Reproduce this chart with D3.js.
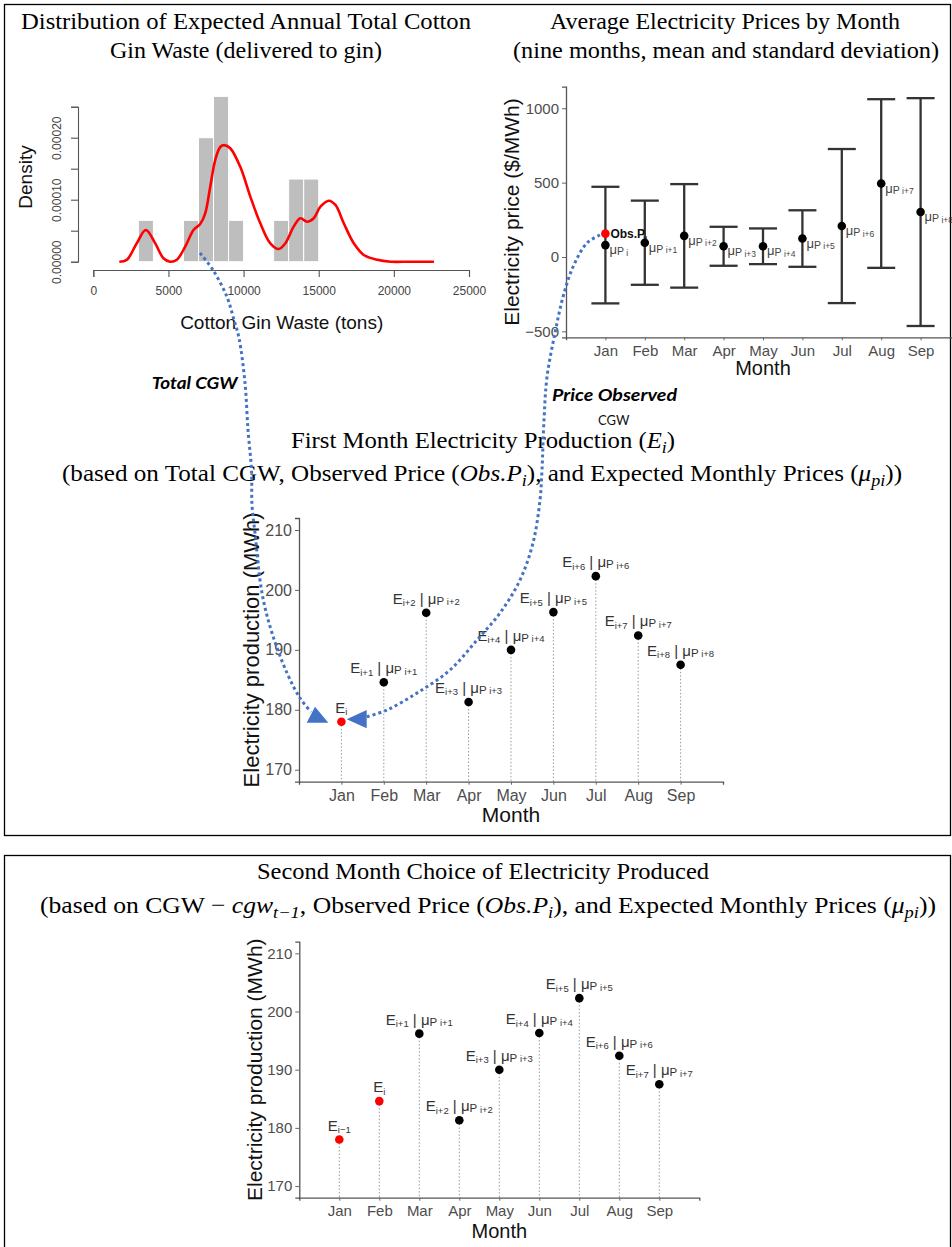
<!DOCTYPE html>
<html><head><meta charset="utf-8">
<script src="https://cdn.jsdelivr.net/npm/d3@7"></script>
<style>body{margin:0;background:#fff} svg{display:block}</style>
</head><body>
<svg id="c" width="952" height="1247"></svg>
<script>
// ================= DATA =================
// Histogram of total cotton gin waste (tons), bin width 1000, n = 15
const binStarts = [3000, 6000, 7000, 8000, 9000, 12000, 13000, 14000];
const binCounts = [1, 1, 3, 4, 1, 1, 2, 2];
const binWidth = 1000;
const nObs = 15;
// Kernel density curve
const densX = [1733, 2227, 2893, 3493, 4113, 4667, 5113, 5560, 6113, 6667, 7113, 7447, 7780, 8113, 8447, 8713, 9113, 9780, 10447, 11113, 11780, 12333, 12780, 13333, 13780, 14227, 14667, 15113, 15667, 16113, 16667, 17333, 18000, 18893, 19780, 21000, 22667];
const densY = [0, 0.000003, 0.0000297, 0.0000511, 0.00003, 0.0000055, 0, 0.0000032, 0.0000242, 0.0000511, 0.0000608, 0.000078, 0.000121, 0.000164, 0.000185, 0.000188, 0.000183, 0.000153, 0.000105, 0.000062, 0.0000297, 0.0000205, 0.0000297, 0.0000565, 0.00007, 0.0000645, 0.00007, 0.0000887, 0.0000984, 0.0000915, 0.000062, 0.0000297, 0.0000108, 0.000003, 0, 0, 0];
const histXTicks = [0, 5000, 10000, 15000, 20000, 25000];
const histYTicks = [0, 0.00005, 0.0001, 0.00015, 0.0002, 0.00025];
const histYTickLabels = ["0.00000", "", "0.00010", "", "0.00020", ""];

// Electricity prices by month
const months = ["Jan", "Feb", "Mar", "Apr", "May", "Jun", "Jul", "Aug", "Sep"];
const priceMean = [80, 96, 142, 72, 72, 124, 208, 494, 302];
const priceSD = [392, 283, 348, 131, 120, 190, 518, 567, 766];
const priceLabelSub = ["i", "i+1", "i+2", "i+3", "i+4", "i+5", "i+6", "i+7", "i+8"];
const obsPrice = 157;
const priceTicks = [-500, 0, 500, 1000];

// Electricity production (MWh)
const production = [178, 184.6, 196.2, 181.3, 190, 196.3, 202.3, 192.4, 187.5];
const prodTicks = [170, 180, 190, 200, 210];
const firstE = ["i", "i+1", "i+2", "i+3", "i+4", "i+5", "i+6", "i+7", "i+8"];
const firstMu = [null, "i+1", "i+2", "i+3", "i+4", "i+5", "i+6", "i+7", "i+8"];
const firstObserved = [true, false, false, false, false, false, false, false, false];
const secondE = ["i\u22121", "i", "i+1", "i+2", "i+3", "i+4", "i+5", "i+6", "i+7"];
const secondMu = [null, null, "i+1", "i+2", "i+3", "i+4", "i+5", "i+6", "i+7"];
const secondObserved = [true, true, false, false, false, false, false, false, false];

// ================= DRAWING =================
const svg = d3.select("#c");
const SANS = "'Liberation Sans', Arial, sans-serif";
const SERIF = "'Liberation Serif', 'Times New Roman', serif";
svg.append("rect").attr("width", 952).attr("height", 1247).attr("fill", "#fff");

// panel frames
svg.append("rect").attr("x", 4.5).attr("y", 4.5).attr("width", 946).attr("height", 831)
  .attr("fill", "none").attr("stroke", "#000").attr("stroke-width", 1.3);
svg.append("rect").attr("x", 4.5).attr("y", 855.5).attr("width", 946).attr("height", 420)
  .attr("fill", "none").attr("stroke", "#000").attr("stroke-width", 1.3);

// ---------- titles ----------
function richText(x, y, parts, size, len) {
  const t = svg.append("text").attr("x", x).attr("y", y).attr("text-anchor", "middle")
    .attr("font-family", SERIF).attr("font-size", size).attr("fill", "#000");
  if (len) t.attr("textLength", len).attr("lengthAdjust", "spacingAndGlyphs");
  parts.forEach(p => {
    const s = t.append("tspan").text(p[0]);
    const k = p[1] || "n";
    if (k === "i") s.attr("font-style", "italic");
    if (k === "sub") s.attr("font-style", "italic").attr("font-size", size * 0.72).attr("dy", size * 0.22);
    if (k === "after") s.attr("dy", -size * 0.22);
  });
  return t;
}
const TS = 24;
richText(246, 28.5, [["Distribution of Expected Annual Total Cotton"]], TS, 450);
richText(246, 57.5, [["Gin Waste (delivered to gin)"]], TS);
richText(725, 28.5, [["Average Electricity Prices by Month"]], TS);
richText(726, 57.5, [["(nine months, mean and standard deviation)"]], TS, 426);
richText(483, 448, [["First Month Electricity Production ("], ["E", "i"], ["i", "sub"], [")", "after"]], TS, 384);
richText(482, 481, [["(based on Total CGW, Observed Price ("], ["Obs.P", "i"], ["i", "sub"], ["), and Expected Monthly Prices (", "after"], ["\u03bc", "i"], ["pi", "sub"], ["))", "after"]], TS, 840);
richText(483, 879, [["Second Month Choice of Electricity Produced"]], TS, 452);
richText(488, 913, [["(based on CGW \u2212 "], ["cgw", "i"], ["t\u22121", "sub"], [", Observed Price (", "after"], ["Obs.P", "i"], ["i", "sub"], ["), and Expected Monthly Prices (", "after"], ["\u03bc", "i"], ["pi", "sub"], ["))", "after"]], TS, 896);

// ---------- histogram ----------
const hx = d3.scaleLinear().domain([0, 25000]).range([93.3, 469]);
const hy = d3.scaleLinear().domain([0, 0.00025]).range([261.7, 106.7]);
const hg = svg.append("g");
hg.selectAll("rect.bar").data(binStarts).join("rect").attr("class", "bar")
  .attr("x", d => hx(d)).attr("width", d => hx(d + binWidth) - hx(d))
  .attr("y", (d, i) => hy(binCounts[i] / (nObs * binWidth)))
  .attr("height", (d, i) => hy(0) - hy(binCounts[i] / (nObs * binWidth)))
  .attr("fill", "#bebebe").attr("stroke", "#fff").attr("stroke-width", 1);
hg.append("path").datum(densX.map((x, i) => [x, densY[i]]))
  .attr("d", d3.line().x(d => hx(d[0])).y(d => hy(d[1])).curve(d3.curveCatmullRom))
  .attr("fill", "none").attr("stroke", "#ff0000").attr("stroke-width", 2.6);
const hxAxis = hg.append("g").attr("transform", "translate(0,270)")
  .call(d3.axisBottom(hx).tickValues(histXTicks).tickFormat(d3.format("d")).tickSizeOuter(0).tickSize(7).tickPadding(9));
const hyAxis = hg.append("g").attr("transform", "translate(78,0)")
  .call(d3.axisLeft(hy).tickValues(histYTicks).tickFormat((d, i) => histYTickLabels[i]).tickSizeOuter(0).tickSize(7));
[hxAxis, hyAxis].forEach(a => {
  a.selectAll("path,line").attr("stroke", "#555").attr("stroke-width", 1.1);
  a.selectAll("text").attr("font-family", SANS).attr("font-size", 12).attr("fill", "#444");
});
hyAxis.selectAll("text").attr("transform", "rotate(-90)").attr("text-anchor", "middle")
  .attr("x", 0).attr("y", -21).attr("dy", "0.35em");
hg.append("text").attr("x", 281.7).attr("y", 329).attr("text-anchor", "middle")
  .attr("font-family", SANS).attr("font-size", 19).attr("fill", "#111").text("Cotton Gin Waste (tons)");
hg.append("text").attr("transform", "translate(25,177) rotate(-90)").attr("dy", "0.35em").attr("text-anchor", "middle")
  .attr("font-family", SANS).attr("font-size", 19).attr("fill", "#111").text("Density");

// ---------- price chart ----------
const px = d3.scaleLinear().domain([0, 10]).range([566, 960]);
const py = d3.scaleLinear().domain([-540, 1145]).range([337.3, 86.7]);
const pg = svg.append("g");
function ggAxes(g, x, y, yTicks, xY, yX, tickFont, xLabY, yLabX, yLabText, titleFont) {
  const xa = g.append("g").attr("transform", `translate(0,${xY})`)
    .call(d3.axisBottom(x).tickValues(d3.range(1, 10)).tickFormat(i => months[i - 1]).tickSizeOuter(0).tickSize(3).tickPadding(5));
  const ya = g.append("g").attr("transform", `translate(${yX},0)`)
    .call(d3.axisLeft(y).tickValues(yTicks).tickFormat(d3.format("d")).tickSizeOuter(0).tickSize(4).tickPadding(3));
  [xa, ya].forEach(a => {
    a.select("path.domain").attr("stroke", "#555").attr("stroke-width", 1.3);
    a.selectAll("line").attr("stroke", "#666").attr("stroke-width", 1);
    a.selectAll("text").attr("font-family", SANS).attr("font-size", tickFont).attr("fill", "#4d4d4d");
  });
  g.append("text").attr("x", x(5)).attr("y", xLabY)
    .attr("text-anchor", "middle").attr("font-family", SANS).attr("font-size", titleFont).attr("fill", "#111").text("Month");
  const r = y.range();
  g.append("text").attr("transform", `translate(${yLabX},${(r[0] + r[1]) / 2}) rotate(-90)`).attr("dy", "0.35em")
    .attr("text-anchor", "middle").attr("font-family", SANS).attr("font-size", titleFont + 1).attr("fill", "#111").text(yLabText);
}
ggAxes(pg, px, py, priceTicks, 337.3, 566, 15, 375, 511.7, "Electricity price ($/MWh)", 20);

const eb = pg.append("g");
eb.selectAll("line.v").data(priceMean).join("line").attr("class", "v")
  .attr("x1", (d, i) => px(i + 1)).attr("x2", (d, i) => px(i + 1))
  .attr("y1", (d, i) => py(d + priceSD[i])).attr("y2", (d, i) => py(d - priceSD[i]));
eb.selectAll("line.t").data(priceMean).join("line").attr("class", "t")
  .attr("x1", (d, i) => px(i + 1) - 14).attr("x2", (d, i) => px(i + 1) + 14)
  .attr("y1", (d, i) => py(d + priceSD[i])).attr("y2", (d, i) => py(d + priceSD[i]));
eb.selectAll("line.b").data(priceMean).join("line").attr("class", "b")
  .attr("x1", (d, i) => px(i + 1) - 14).attr("x2", (d, i) => px(i + 1) + 14)
  .attr("y1", (d, i) => py(d - priceSD[i])).attr("y2", (d, i) => py(d - priceSD[i]));
eb.selectAll("line").attr("stroke", "#333").attr("stroke-width", 2.3);
pg.selectAll("circle.m").data(priceMean).join("circle").attr("class", "m")
  .attr("cx", (d, i) => px(i + 1)).attr("cy", d => py(d)).attr("r", 4.3).attr("fill", "#000");
pg.selectAll("text.mu").data(priceMean).join("text").attr("class", "mu")
  .attr("x", (d, i) => px(i + 1) + 4).attr("y", d => py(d) + 9)
  .attr("font-family", SANS).attr("fill", "#444")
  .each(function (d, i) {
    const t = d3.select(this);
    t.append("tspan").text("\u03bc").attr("font-size", 13);
    t.append("tspan").text("P").attr("font-size", 10.5).attr("dy", 1);
    t.append("tspan").text(" " + priceLabelSub[i]).attr("font-size", 8.5).attr("dy", 0.5);
  });
pg.append("circle").attr("cx", px(1)).attr("cy", py(obsPrice)).attr("r", 4.3).attr("fill", "#ff0000");
const ot = pg.append("text").attr("x", px(1) + 5).attr("y", py(obsPrice) + 4.5)
  .attr("font-family", SANS).attr("font-size", 12).attr("font-weight", "bold").attr("fill", "#111");
ot.append("tspan").text("Obs.P");
ot.append("tspan").text("i").attr("font-size", 8).attr("dy", 3);

// ---------- production charts ----------
function prodChart(x, y, xY, yX, labE, labMu, observed, tickFont, xLabY, yLabX, titleFont) {
  const g = svg.append("g");
  g.selectAll("line.drop").data(production).join("line").attr("class", "drop")
    .attr("x1", (d, i) => x(i + 1)).attr("x2", (d, i) => x(i + 1))
    .attr("y1", d => y(d)).attr("y2", xY)
    .attr("stroke", "#9a9a9a").attr("stroke-width", 1).attr("stroke-dasharray", "1.5,2");
  ggAxes(g, x, y, prodTicks, xY, yX, tickFont, xLabY, yLabX, "Electricity production (MWh)", titleFont);
  g.selectAll("circle.p").data(production).join("circle").attr("class", "p")
    .attr("cx", (d, i) => x(i + 1)).attr("cy", d => y(d)).attr("r", 4.3)
    .attr("fill", (d, i) => observed[i] ? "#ff0000" : "#000");
  g.selectAll("text.lab").data(production).join("text").attr("class", "lab")
    .attr("x", (d, i) => x(i + 1)).attr("y", d => y(d) - 9).attr("text-anchor", "middle")
    .attr("font-family", SANS).attr("fill", "#333")
    .each(function (d, i) {
      const t = d3.select(this);
      t.append("tspan").text("E").attr("font-size", 15);
      t.append("tspan").text(labE[i]).attr("font-size", 9.5).attr("dy", 2.5);
      if (labMu[i]) {
        t.append("tspan").text(" | ").attr("font-size", 15).attr("dy", -2.5);
        t.append("tspan").text("\u03bc").attr("font-size", 15);
        t.append("tspan").text("P").attr("font-size", 11.5).attr("dy", 1);
        t.append("tspan").text(" " + labMu[i]).attr("font-size", 9.5).attr("dy", 0.5);
      }
    });
  return g;
}
const mx = d3.scaleLinear().domain([0, 10]).range([299, 723]);
const my = d3.scaleLinear().domain([168, 212]).range([781.7, 518]);
prodChart(mx, my, 781.7, 299, firstE, firstMu, firstObserved, 16, 822, 251.7, 21);
const bx = d3.scaleLinear().domain([0, 10]).range([299.3, 699.3]);
const by = d3.scaleLinear().domain([168, 212]).range([1197.7, 941.7]);
prodChart(bx, by, 1197.7, 299.3, secondE, secondMu, secondObserved, 15, 1238, 255, 20);

// ---------- annotation arrows ----------
const BLUE = "#4472C4";
const arrow1 = [[200, 253], [213, 270], [227, 297], [234, 320], [239, 338], [245, 383], [248, 430], [251.5, 470], [252, 505], [255, 533], [262, 593], [272, 633], [287, 673], [300, 698], [311, 712]];
const arrow2 = [[600, 235], [587, 243], [573, 267], [563, 297], [555, 333], [547, 377], [544, 420], [542, 470], [540, 500], [533, 543], [520, 580], [500, 613], [477, 640], [450, 670], [417, 693], [387, 710], [366, 717]];
const head1 = [[328.3, 722.7], [315, 706.7], [306.7, 722.7]];
const head2 = [[346.7, 719.3], [366.7, 710], [366.7, 728.3]];
const ag = svg.append("g");
[arrow1, arrow2].forEach(a => {
  ag.append("path").attr("d", d3.line().curve(d3.curveCatmullRom)(a))
    .attr("fill", "none").attr("stroke", BLUE).attr("stroke-width", 3).attr("stroke-dasharray", "3,3");
});
[head1, head2].forEach(h => {
  ag.append("path").attr("d", "M" + h.join("L") + "Z").attr("fill", BLUE);
});
ag.append("text").attr("x", 151.7).attr("y", 389.3).attr("font-family", "Lato, 'Open Sans', sans-serif")
  .attr("font-weight", "bold").attr("font-style", "italic").attr("font-size", 17)
  .attr("textLength", 86).attr("lengthAdjust", "spacingAndGlyphs").text("Total CGW");
ag.append("text").attr("x", 552).attr("y", 401).attr("font-family", "Lato, 'Open Sans', sans-serif")
  .attr("font-weight", "bold").attr("font-style", "italic").attr("font-size", 17)
  .attr("textLength", 125).attr("lengthAdjust", "spacingAndGlyphs").text("Price Observed");
ag.append("text").attr("x", 598).attr("y", 425).attr("font-family", "Lato, 'Open Sans', sans-serif")
  .attr("font-size", 13).attr("fill", "#111").text("CGW");
</script>
</body></html>
